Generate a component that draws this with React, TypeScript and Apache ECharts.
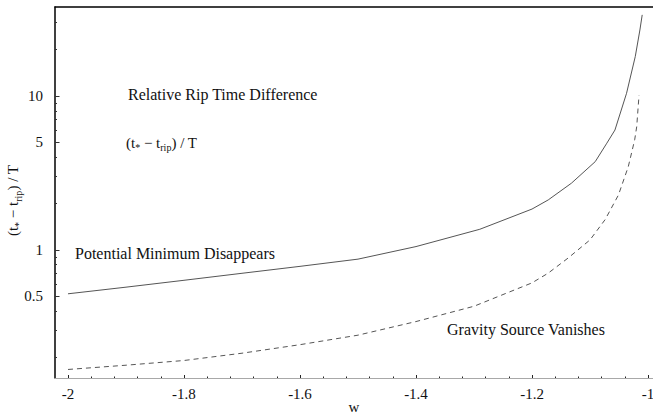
import React, { useEffect, useRef } from "react";
import * as echarts from "echarts";

// Equation-of-state parameter w
const solidW = [-2, -1.9, -1.8, -1.7, -1.6, -1.5, -1.4, -1.29, -1.2, -1.172, -1.132, -1.091, -1.071, -1.057, -1.037, -1.022, -1.014, -1.01];
// (t* - t_rip)/T where the potential minimum disappears
const solidT = [0.518, 0.572, 0.634, 0.704, 0.781, 0.87, 1.05, 1.36, 1.84, 2.11, 2.71, 3.74, 4.93, 6.0, 10.4, 18, 26.8, 33.6];

const dashedW = [-2, -1.9, -1.8, -1.7, -1.6, -1.5, -1.4, -1.3, -1.2, -1.172, -1.138, -1.1, -1.074, -1.051, -1.034, -1.023, -1.0195, -1.0155];
// (t* - t_rip)/T where the gravity source vanishes
const dashedT = [0.167, 0.178, 0.191, 0.213, 0.242, 0.279, 0.342, 0.43, 0.61, 0.706, 0.883, 1.16, 1.57, 2.27, 3.47, 5.18, 6.3, 10.1];

const xMajor = [-2, -1.8, -1.6, -1.4, -1.2, -1];
const xMinor = [-1.96, -1.92, -1.88, -1.84, -1.76, -1.72, -1.68, -1.64, -1.56, -1.52, -1.48, -1.44, -1.36, -1.32, -1.28, -1.24, -1.16, -1.12, -1.08, -1.04];
const yMajor = [0.5, 1, 5, 10];
const yMinor = [0.2, 0.3, 0.4, 0.6, 0.7, 0.8, 0.9, 2, 3, 4, 6, 7, 8, 9, 20, 30];

const X_MIN = -2.0224;
const X_MAX = -0.9914;
const Y_MIN = 0.147;
const Y_MAX = 37.8;

const FONT = "Liberation Serif";

const zip = (xs: number[], ys: number[]) => xs.map((x, i) => [x, ys[i]]);

export default function App() {
  const ref = useRef<HTMLDivElement>(null);

  useEffect(() => {
    if (!ref.current) return;
    const chart = echarts.init(ref.current, null, { renderer: "svg" });

    const xBase = { type: "value", min: X_MIN, max: X_MAX, splitLine: { show: false } };
    const yBase = { type: "log", logBase: 10, min: Y_MIN, max: Y_MAX, splitLine: { show: false } };

    const option = {
      animation: false,
      backgroundColor: "#ffffff",
      textStyle: { fontFamily: FONT },
      grid: { left: 55, right: 0, top: 7, bottom: 39, containLabel: false, outerBoundsMode: "none" },
      xAxis: [
        {
          ...xBase,
          position: "bottom",
          name: "w",
          nameLocation: "middle",
          nameGap: 21,
          nameMoveOverlap: false,
          nameTextStyle: { fontFamily: FONT, fontSize: 15, color: "#111" },
          axisLine: { show: true, onZero: false, lineStyle: { color: "#a8a8a8", width: 1 } },
          axisTick: { show: true, inside: true, length: 3, customValues: xMajor, lineStyle: { color: "#222", width: 1 } },
          axisLabel: {
            show: true,
            customValues: xMajor,
            margin: 8,
            fontFamily: FONT,
            fontSize: 15,
            color: "#111",
            formatter: (v: number) => String(Math.round(v * 10) / 10),
          },
        },
        {
          ...xBase,
          position: "bottom",
          axisLine: { show: false, onZero: false },
          axisTick: { show: true, inside: true, length: 1.5, customValues: xMinor, lineStyle: { color: "#222", width: 1 } },
          axisLabel: { show: false },
        },
        {
          ...xBase,
          position: "top",
          axisLine: { show: true, onZero: false, lineStyle: { color: "#000", width: 1.5 } },
          axisTick: { show: false },
          axisLabel: { show: false },
        },
      ],
      yAxis: [
        {
          ...yBase,
          position: "left",
          name: "{m|(t}{s|*}{m| − t}{s|rip}{m|) / T}",
          nameLocation: "middle",
          nameRotate: 90,
          nameGap: 32,
          nameMoveOverlap: false,
          nameTextStyle: {
            fontFamily: FONT,
            color: "#111",
            padding: [0, 16, 0, 0],
            rich: {
              m: { fontFamily: FONT, fontSize: 15, color: "#111", lineHeight: 20, verticalAlign: "middle" },
              s: { fontFamily: FONT, fontSize: 10, color: "#111", lineHeight: 12, verticalAlign: "bottom" },
            },
          },
          axisLine: { show: true, onZero: false, lineStyle: { color: "#000", width: 1.5 } },
          axisTick: { show: true, inside: true, length: 4.5, customValues: yMajor, lineStyle: { color: "#333", width: 1 } },
          axisLabel: {
            show: true,
            customValues: yMajor,
            margin: 12,
            fontFamily: FONT,
            fontSize: 15,
            color: "#111",
            formatter: (v: number) => String(Math.round(v * 10) / 10),
          },
        },
        {
          ...yBase,
          position: "left",
          axisLine: { show: false, onZero: false },
          axisTick: { show: true, inside: true, length: 2, customValues: yMinor, lineStyle: { color: "#333", width: 1 } },
          axisLabel: { show: false },
        },
      ],
      graphic: [
        {
          type: "text",
          left: 128,
          top: 86,
          style: { text: "Relative Rip Time Difference", fontFamily: FONT, fontSize: 16, fill: "#111" },
        },
        {
          type: "text",
          left: 126,
          top: 135,
          style: {
            text: "{m|(t}{s|*}{m| − t}{s|rip}{m|) / T}",
            fontFamily: FONT,
            fontSize: 15,
            fill: "#111",
            rich: {
              m: { fontFamily: FONT, fontSize: 15, fill: "#111", lineHeight: 20, verticalAlign: "middle" },
              s: { fontFamily: FONT, fontSize: 10, fill: "#111", lineHeight: 12, verticalAlign: "bottom" },
            },
          },
        },
        {
          type: "text",
          left: 75,
          top: 245,
          style: { text: "Potential Minimum Disappears", fontFamily: FONT, fontSize: 16, fill: "#111" },
        },
        {
          type: "text",
          left: 447,
          top: 321,
          style: { text: "Gravity Source Vanishes", fontFamily: FONT, fontSize: 16, fill: "#111" },
        },
      ],
      series: [
        {
          type: "line",
          xAxisIndex: 0,
          yAxisIndex: 0,
          data: zip(solidW, solidT),
          showSymbol: false,
          symbol: "none",
          smooth: false,
          lineStyle: { color: "#555", width: 1, type: "solid" },
          silent: true,
        },
        {
          type: "line",
          xAxisIndex: 0,
          yAxisIndex: 0,
          data: zip(dashedW, dashedT),
          showSymbol: false,
          symbol: "none",
          smooth: false,
          lineStyle: { color: "#555", width: 1, type: [5, 4] },
          silent: true,
        },
      ],
    };

    chart.setOption(option as any);
    return () => chart.dispose();
  }, []);

  return (
    <div
      ref={ref}
      style={{ position: "fixed", left: 0, top: 0, width: 653, height: 417, background: "#fff" }}
    />
  );
}
